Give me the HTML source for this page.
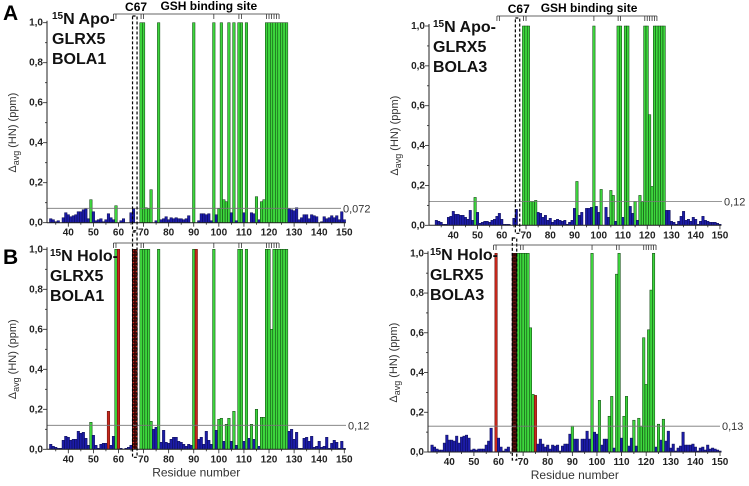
<!DOCTYPE html>
<html><head><meta charset="utf-8"><style>
body{margin:0;background:#fff;}
svg{display:block;font-family:"Liberation Sans",sans-serif;}
.tl{font-size:10px;font-weight:bold;fill:#222;}
.tt{font-size:16px;font-weight:bold;fill:#111;}
</style></head><body>
<svg id="fig" width="749" height="486" viewBox="0 0 749 486" xmlns="http://www.w3.org/2000/svg">
<defs>
<pattern id="hatch" width="3" height="3" patternUnits="userSpaceOnUse"><rect width="3" height="3" fill="#3a0a08"/><circle cx="1.5" cy="1.5" r="0.8" fill="#d0281e"/></pattern>
</defs>
<text x="3" y="20" font-size="21" font-weight="bold">A</text>
<text x="3" y="264" font-size="21" font-weight="bold">B</text>
</svg>
<script>
const residueStart = 33;
const valuesA = [.02,.015,.005,.01,0,.025,.05,.04,.03,.035, .04,.055,.055,.065,.07,.02,.115,.055,.01,.015, .02,.005,.015,.045,.025,.015,.085,0,.01,.02, 0,0,.05,.07,0,0,1,1,.075,.07, .165,0,.01,1,.015,.02,.03,.015,.025,.02, .025,.02,.02,.015,.02,.035,0,1,0,.01, .045,.045,.04,.045,.01,1,.04,.07,1,.115, .105,1,.05,1,.01,1,1,.05,1,0, .05,.045,.13,.015,.105,.115,1,1,1,1, 1,1,1,1,1,.07,.065,.06,.075,.015, .025,.04,.04,.02,.04,.035,.03,0,.005,.03, .02,.025,.035,.025,.035,.015,.055,.015];
const greenA = [49,59,69,70,71,72,73,76,90,98,100,101,102,103,104,106,108,109,111,115,117,118,119,120,121,122,123,124,125,126,127];
const redA = [];
const hatchA = [];
const thrA = 0.072;
const thrLabelA = "0,072";

const valuesB = [.025,.015,.01,.005,.005,.045,.065,.06,.045,.05, .05,.09,.08,.085,.055,.02,.135,.07,.02,.005, .025,.03,.03,.19,.02,.065,1,1,.005,0, .005,.01,.02,1,1,0,1,1,1,1, .14,.1,.11,1,.035,.095,.035,.03,.05,.06, .06,.04,.035,.025,.015,.025,.02,1,1,.05, .06,.025,.09,.045,.025,1,.095,.15,.155,.04, .125,.155,.04,.19,.02,1,1,.04,1,.055, .125,.05,.2,.015,.16,.16,1,1,.6,1, 1,1,1,1,1,.09,.1,.05,.085,.005, .005,.055,.06,.04,.065,.01,.015,.04,.01,.015, .06,.005,.03,.045,.035,.005,.04,.005];
const greenB = [49,59,69,70,71,72,73,76,90,98,100,101,103,104,106,108,109,111,113,115,117,118,119,120,121,122,123,124,125,126,127];
const redB = [56,60,91];
const hatchB = [66,67];
const thrB = 0.12;
const thrLabelB = "0,12";

const valuesC = [.025,.02,.015,.005,.005,.04,.045,.07,.055,.055, .05,.05,.04,.03,.075,.025,.14,.065,.01,.015, .02,.02,.015,.025,.03,.045,.06,.03,.005,.005, .005,0,.035,.08,0,0,1,1,1,.12, .12,.125,.065,.06,.04,.05,.025,.035,.015,.025, .03,.025,.02,.025,.005,.015,.025,.085,.22,.05, .065,0,.085,.085,.09,1,.095,.065,.18,0, .09,.04,.175,.15,.02,1,1,.04,1,1, .095,.06,.12,.025,.15,.12,1,1,.555,.195, 1,1,1,1,1,.075,.075,.02,.015,.005, .02,.045,.07,.025,.03,.02,.04,.03,.005,.02, .045,.025,.02,.015,.015,.015,.01,.005];
const greenC = [49,69,70,71,72,73,74,91,98,101,105,106,108,109,111,112,115,117,118,119,120,121,122,123,124,125,126,127];
const redC = [];
const hatchC = [];
const thrC = 0.12;
const thrLabelC = "0,12";

const valuesD = [.035,.025,.015,.01,.01,.045,.085,.06,.06,.055, .08,.045,.075,.08,.085,.07,.01,.015,.01,.015, .015,.015,.035,.055,.12,0,1,.07,.025,.005, .015,.025,0,1,1,1,1,1,1,1, .625,.29,.285,.04,.065,.04,.025,.035,.015,.035, .03,.035,.005,.03,.04,.04,.09,.13,.065,.065, .005,.065,.065,.105,.065,1,.1,.09,.26,.035, .065,.065,.18,.28,.02,.895,1,.07,.18,.28, .03,.07,.16,.03,.17,.13,.575,.34,.615,.815, 1,.025,.14,.06,.165,.055,.105,.02,.04,.005, .02,.03,.1,.035,.035,.035,.04,.025,.005,.02, .025,.01,.035,.015,.02,.015,.01,.005];
const greenD = [68,69,70,71,72,73,74,90,98,101,105,106,108,109,111,112,115,117,118,119,120,121,122,123,125,127];
const redD = [59,75];
const hatchD = [66,67];
const thrD = 0.13;
const thrLabelD = "0,13";

const xTickLabels = [40,50,60,70,80,90,100,110,120,130,140,150];
const yTickLabels = ["0,0","0,2","0,4","0,6","0,8","1,0"];
const bracketTicks = [58,59,69,70,98,108,109,119,120,121,122,123,124];

const NS = "http://www.w3.org/2000/svg";
const svg = document.getElementById('fig');
function mk(tag, attrs, parent){const e=document.createElementNS(NS,tag);for(const k in attrs)e.setAttribute(k,attrs[k]);(parent||svg).appendChild(e);return e;}

function panel(id, g, values, green, red, hatch, thr, thrLabel, title){
  const grp = mk('g',{});
  
  
  const X = r => g.px40 + (r-40)*g.k;
  const Y = v => g.y0 - Math.min(v,1)*(g.y0-g.y1);
  const xEnd = X(150.6);
  values.forEach((v,i)=>{
    const r = residueStart + i;
    if(v<=0) return;
    let fill='#1c1ca8', stroke='#0a0a50';
    if(green.includes(r)){fill='#3dd63d';stroke='#0b3a0b';}
    if(red.includes(r)){fill='#c8281c';stroke='#5a0a06';}
    if(hatch.includes(r)){fill='url(#hatch)';stroke='#200';}
    const b = mk('rect',{x:X(r-0.5),y:Y(v),width:g.k,height:g.y0-Y(v),fill:fill,stroke:stroke,'stroke-width':0.5},grp);
    
    
  });
  const tl = mk('line',{x1:g.axisX,x2:g.thrEnd,y1:Y(thr),y2:Y(thr),stroke:'#777','stroke-width':0.8},grp);
  
  
  const tt = mk('text',{x:g.thrEnd+2,y:Y(thr)+4,'font-size':11,fill:'#333'},grp);
  tt.textContent = thrLabel;
  
  
  mk('line',{x1:g.axisX,x2:g.axisX,y1:g.y1-2,y2:g.y0,stroke:'#222','stroke-width':1},grp);
  mk('line',{x1:g.axisX,x2:xEnd,y1:g.y0,y2:g.y0,stroke:'#222','stroke-width':1},grp);
  for(let t=0;t<=10;t++){
    const y=Y(t/10);
    mk('line',{x1:g.axisX-(t%2?2:4),x2:g.axisX,y1:y,y2:y,stroke:'#222','stroke-width':0.8},grp);
  }
  yTickLabels.forEach((s,i)=>{
    const t = mk('text',{x:g.axisX-4,y:Y(i*0.2)+3,'text-anchor':'end',class:'tl'},grp);
    t.textContent=s;
    
    
  });
  for(let r=35;r<=150;r+=5){
    mk('line',{x1:X(r),x2:X(r),y1:g.y0,y2:g.y0+(r%10?2:4),stroke:'#222','stroke-width':0.8},grp);
  }
  xTickLabels.forEach(r=>{
    const t = mk('text',{x:X(r),y:g.y0+13,'text-anchor':'middle',class:'tl'},grp);
    t.textContent=r;
    
    
  });
  const yt = mk('text',{transform:`translate(${g.axisX-31},${(g.y0+g.y1)/2+10}) rotate(-90)`,'text-anchor':'middle','font-size':11,fill:'#333'},grp);
  yt.innerHTML = 'Δ<tspan font-size="9" dy="3">avg</tspan><tspan dy="-3"> (HN) (ppm)</tspan>';
  
  
  if(g.xTitle){
    const xt = mk('text',{x:X(91),y:g.y0+27,'text-anchor':'middle','font-size':12,fill:'#333'},grp);
    xt.textContent='Residue number';
    
    
  }
  const db = mk('rect',{x:X(65.6),y:g.boxTop,width:X(67.4)-X(65.6),height:g.y0+8-g.boxTop,fill:'none',stroke:'#000','stroke-width':1.2,'stroke-dasharray':'3,2'},grp);
  
  
  const by = g.bracketY;
  mk('line',{x1:X(bracketTicks[0]),x2:X(bracketTicks[bracketTicks.length-1]),y1:by,y2:by,stroke:'#333','stroke-width':0.8},grp);
  bracketTicks.forEach(r=>mk('line',{x1:X(r),x2:X(r),y1:by,y2:by+5,stroke:'#333','stroke-width':0.8},grp));
  if(g.labels){
    const c = mk('text',{x:X(67),y:by-3,'text-anchor':'middle','font-size':12,'font-weight':'bold'},grp);
    c.textContent='C67';
    
    
    const s = mk('text',{x:X(96),y:by-4,'text-anchor':'middle','font-size':12,'font-weight':'bold'},grp);
    s.textContent='GSH binding site';
    
    
  }
  title.forEach((ln,i)=>{
    const t = mk('text',{x:g.titleX,y:g.titleY+i*20,class:'tt'},grp);
    if(i===0){t.innerHTML='<tspan font-size="10" dy="-5">15</tspan><tspan dy="5">'+ln+'</tspan>';}
    else t.textContent=ln;
    
    
  });
}

panel('a',{px40:68.3,k:2.509,y1:22.7,y0:222.7,axisX:47,thrEnd:341,boxTop:16,bracketY:14,labels:true,titleX:52,titleY:24,xTitle:false},valuesA,greenA,redA,hatchA,thrA,thrLabelA,['N Apo-','GLRX5','BOLA1']);
panel('b',{px40:68.3,k:2.509,y1:249.3,y0:449.3,axisX:47,thrEnd:346,boxTop:232,bracketY:243,labels:false,titleX:50,titleY:261,xTitle:true},valuesB,greenB,redB,hatchB,thrB,thrLabelB,['N Holo-','GLRX5','BOLA1']);
panel('c',{px40:453.3,k:2.424,y1:26,y0:225.3,axisX:429,thrEnd:722,boxTop:18,bracketY:16,labels:true,titleX:433,titleY:32,xTitle:false},valuesC,greenC,redC,hatchC,thrC,thrLabelC,['N Apo-','GLRX5','BOLA3']);
panel('d',{px40:449.3,k:2.461,y1:253.3,y0:452,axisX:428,thrEnd:720,boxTop:238,bracketY:245,labels:false,titleX:430,titleY:260,xTitle:true},valuesD,greenD,redD,hatchD,thrD,thrLabelD,['N Holo-','GLRX5','BOLA3']);
</script>
</body></html>
